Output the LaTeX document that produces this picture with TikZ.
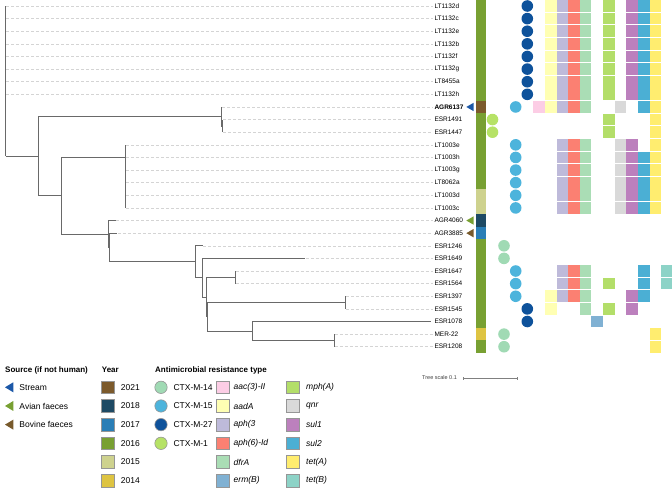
\documentclass[tikz,border=0pt]{standalone}
\usepackage{fontspec}
\setmainfont{Liberation Sans}
\definecolor{treegray}{RGB}{105,105,105}
\definecolor{dashgray}{RGB}{212,212,212}
\definecolor{y21}{RGB}{124,90,44}
\definecolor{y18}{RGB}{30,74,100}
\definecolor{y17}{RGB}{42,126,182}
\definecolor{y16}{RGB}{120,160,50}
\definecolor{y15}{RGB}{206,210,142}
\definecolor{y14}{RGB}{222,196,66}
\definecolor{c14}{RGB}{160,218,180}
\definecolor{c15}{RGB}{77,180,220}
\definecolor{c27}{RGB}{14,82,155}
\definecolor{c1}{RGB}{182,226,102}
\definecolor{g0}{RGB}{252,205,229}
\definecolor{g1}{RGB}{255,255,179}
\definecolor{g2}{RGB}{190,186,218}
\definecolor{g3}{RGB}{251,128,114}
\definecolor{g4}{RGB}{170,221,181}
\definecolor{g5}{RGB}{128,177,211}
\definecolor{g6}{RGB}{179,222,105}
\definecolor{g7}{RGB}{217,217,217}
\definecolor{g8}{RGB}{188,128,189}
\definecolor{g9}{RGB}{75,175,212}
\definecolor{g10}{RGB}{255,237,111}
\definecolor{g11}{RGB}{141,211,199}
\definecolor{srcstream}{RGB}{28,88,168}
\definecolor{srcavian}{RGB}{120,160,50}
\definecolor{srcbovine}{RGB}{120,90,44}
\definecolor{legborder}{RGB}{150,150,150}
\begin{document}
\begin{tikzpicture}[x=1bp,y=-1bp,
  branch/.style={draw=treegray, line width=0.75bp},
  leafline/.style={draw=dashgray, line width=0.5bp, dash pattern=on 3bp off 2bp},
  lab/.style={anchor=west, inner sep=0pt, font=\fontsize{6.5bp}{7bp}\selectfont},
  ttl/.style={anchor=west, inner sep=0pt, font=\fontsize{8bp}{9bp}\selectfont\bfseries},
  item/.style={anchor=west, inner sep=0pt, font=\fontsize{8.5bp}{9bp}\selectfont},
  gitem/.style={anchor=west, inner sep=0pt, font=\fontsize{8.5bp}{9bp}\selectfont\itshape},
  swatch/.style={draw=legborder, line width=0.6bp}]
\useasboundingbox (0,0) rectangle (672,488);

% ---------- leaves and labels ----------
\foreach \i/\x/\t in {0/5.5/LT1132d,1/5.5/LT1132c,2/5.5/LT1132e,3/5.5/LT1132b,4/5.5/LT1132f,
  5/5.5/LT1132g,6/5.5/LT8455a,7/5.5/LT1132h,8/221.7/{\bfseries AGR6137},9/222.5/ESR1491,
  10/222.5/ESR1447,11/125.3/LT1003e,12/125.3/LT1003h,13/125.3/LT1003g,14/125.3/LT8062a,
  15/125.3/LT1003d,16/125.3/LT1003c,17/115.7/AGR4060,18/117.3/AGR3885,19/202.7/ESR1246,
  20/305/ESR1649,21/235/ESR1647,22/235/ESR1564,23/345.7/ESR1397,24/345.7/ESR1545,
  25/431/ESR1078,26/334.3/MER-22,27/334.3/ESR1208}{
  \coordinate (leaf\i) at (\x,{6+12.62*\i});
  \node[lab] (lab\i) at (434.3,{6+12.62*\i}) {\t};
}
\foreach \i in {0,...,24,26,27}{
  \draw[leafline] ([xshift=0.6bp]leaf\i) -- ([xshift=-1.5bp]lab\i.west);
}

% ---------- tree ----------
\coordinate (R) at (5.5,155.9);
\coordinate (A) at (38.4,155.9);
\coordinate (B) at (221.7,116.4);
\coordinate (B2) at (222.5,125.89);
\coordinate (C) at (61.7,195.7);
\coordinate (D) at (125.3,157.44);
\coordinate (E) at (108.7,233.9);
\coordinate (E2) at (109.3,247.45);
\coordinate (F) at (195.7,261.74);
\coordinate (G) at (202.7,277.7);
\coordinate (J) at (206.7,297.05);
\coordinate (K) at (235,277.33);
\coordinate (L) at (207.3,316.77);
\coordinate (M) at (345.7,302.57);
\coordinate (H) at (252.7,330.97);
\coordinate (I) at (334.3,340.43);
\coordinate (L25) at (431,321.5);

\foreach \p/\c in {R/leaf0,R/leaf7,R/A,A/B,A/C,B/leaf8,B/B2,B2/leaf9,B2/leaf10,
  C/D,C/E,D/leaf11,D/leaf16,E/leaf17,E/E2,E2/leaf18,E2/F,F/leaf19,F/G,G/leaf20,G/J,
  J/K,J/L,K/leaf21,K/leaf22,L/M,L/H,M/leaf23,M/leaf24,H/L25,H/I,I/leaf26,I/leaf27}{
  \draw[branch] (\p) |- (\c);
}

% ---------- year strip ----------
\foreach \i/\c in {0/y16,1/y16,2/y16,3/y16,4/y16,5/y16,6/y16,7/y16,8/y21,9/y16,10/y16,
  11/y16,12/y16,13/y16,14/y16,15/y15,16/y15,17/y18,18/y17,19/y16,20/y16,21/y16,22/y16,
  23/y16,24/y16,25/y16,26/y14,27/y16}{
  \fill[\c] (476,{6+12.62*\i-6.4}) rectangle (486,{6+12.62*\i+6.4});
}

% ---------- source triangles ----------
\foreach \i/\c in {8/srcstream,17/srcavian,18/srcbovine}{
  \fill[\c] (466.3,{6+12.62*\i}) -- (473.6,{6+12.62*\i-4.2}) -- (473.6,{6+12.62*\i+4.2}) -- cycle;
}

% ---------- CTX-M circles ----------
\foreach \i/\x/\c in {0/527.3/c27,1/527.3/c27,2/527.3/c27,3/527.3/c27,4/527.3/c27,
  5/527.3/c27,6/527.3/c27,7/527.3/c27,8/515.7/c15,9/492.5/c1,10/492.5/c1,
  11/515.7/c15,12/515.7/c15,13/515.7/c15,14/515.7/c15,15/515.7/c15,16/515.7/c15,
  19/504/c14,20/504/c14,21/515.7/c15,22/515.7/c15,23/515.7/c15,24/527.3/c27,
  25/527.3/c27,26/504/c14,27/504/c14}{
  \fill[\c] (\x,{6+12.62*\i}) circle (5.8);
}

% ---------- gene cells ----------
\foreach \i/\gl in {0/{1,2,3,4,6,8,9,10},1/{1,2,3,4,6,8,9,10},2/{1,2,3,4,6,8,9,10},
  3/{1,2,3,4,6,8,9,10},4/{1,2,3,4,6,8,9,10},5/{1,2,3,4,6,8,9,10},6/{1,2,3,4,6,8,9,10},
  7/{1,2,3,4,6,8,9,10},8/{0,1,2,3,4,7,9,10},9/{6,10},10/{6,10},11/{2,3,4,7,8,10},
  12/{2,3,4,7,8,9,10},13/{2,3,4,7,8,9,10},14/{2,3,4,7,8,9,10},15/{2,3,4,7,8,9,10},
  16/{2,3,4,7,8,9,10},21/{2,3,4,9,11},22/{2,3,4,6,9,11},23/{1,2,3,4,8,9},
  24/{1,4,6,8},25/{5},26/{10},27/{10}}{
  \foreach \k in \gl {
    \fill[g\k] ({533.3+11.62*\k},{6+12.62*\i-5.85}) rectangle ({533.3+11.62*(\k+1)},{6+12.62*\i+5.85});
  }
}

% ---------- tree scale ----------
\node[anchor=west, inner sep=0pt, font=\fontsize{5.5bp}{6bp}\selectfont, text=black!75] (ts) at (422,377.5) {Tree scale 0.1};
\coordinate (sb1) at (463,378);
\coordinate (sb2) at (517,378);
\draw[draw=black!50, line width=0.5bp] (sb1) -- (sb2);
\draw[draw=black!50, line width=0.5bp] ([yshift=-1.5bp]sb1) -- ([yshift=1.5bp]sb1);
\draw[draw=black!50, line width=0.5bp] ([yshift=-1.5bp]sb2) -- ([yshift=1.5bp]sb2);

% ---------- legend: source ----------
\node[ttl] (tsrc) at (5,370) {Source (if not human)};
\foreach \j/\c/\t in {0/srcstream/Stream,1/srcavian/Avian faeces,2/srcbovine/Bovine faeces}{
  \fill[\c] (5,{387.3+18.67*\j}) -- (13.3,{387.3+18.67*\j-5}) -- (13.3,{387.3+18.67*\j+5}) -- cycle;
  \node[item] (src\j) at (19.3,{387.3+18.67*\j}) {\t};
}

% ---------- legend: year ----------
\node[ttl] (tyear) at (101.7,370) {Year};
\foreach \j/\c/\t in {0/y21/2021,1/y18/2018,2/y17/2017,3/y16/2016,4/y15/2015,5/y14/2014}{
  \filldraw[fill=\c, swatch] (101.7,{387.3+18.67*\j-6.4}) rectangle (114.5,{387.3+18.67*\j+6.4});
  \node[item] (yr\j) at (120.7,{387.3+18.67*\j}) {\t};
}

% ---------- legend: AMR ----------
\node[ttl] (tamr) at (155,370) {Antimicrobial resistance type};
\foreach \j/\c/\t in {0/c14/CTX-M-14,1/c15/CTX-M-15,2/c27/CTX-M-27,3/c1/CTX-M-1}{
  \filldraw[fill=\c, swatch] (161,{387.3+18.67*\j}) circle (6.2);
  \node[item] (ctx\j) at (173.3,{387.3+18.67*\j}) {\t};
}
\foreach \j/\c/\t in {0/g0/aac(3)-II,1/g1/aadA,2/g2/aph(3,3/g3/aph(6)-Id,4/g4/dfrA,5/g5/erm(B)}{
  \filldraw[fill=\c, swatch] (216.7,{387.3+18.67*\j-6.4}) rectangle (229.5,{387.3+18.67*\j+6.4});
  \node[gitem] (ga\j) at (233.5,{387.3+18.67*\j}) {\t};
}
\foreach \j/\c/\t in {0/g6/mph(A),1/g7/qnr,2/g8/sul1,3/g9/sul2,4/g10/tet(A),5/g11/tet(B)}{
  \filldraw[fill=\c, swatch] (286.7,{387.3+18.67*\j-6.4}) rectangle (299.5,{387.3+18.67*\j+6.4});
  \node[gitem] (gb\j) at (306,{387.3+18.67*\j}) {\t};
}
\end{tikzpicture}
\end{document}
